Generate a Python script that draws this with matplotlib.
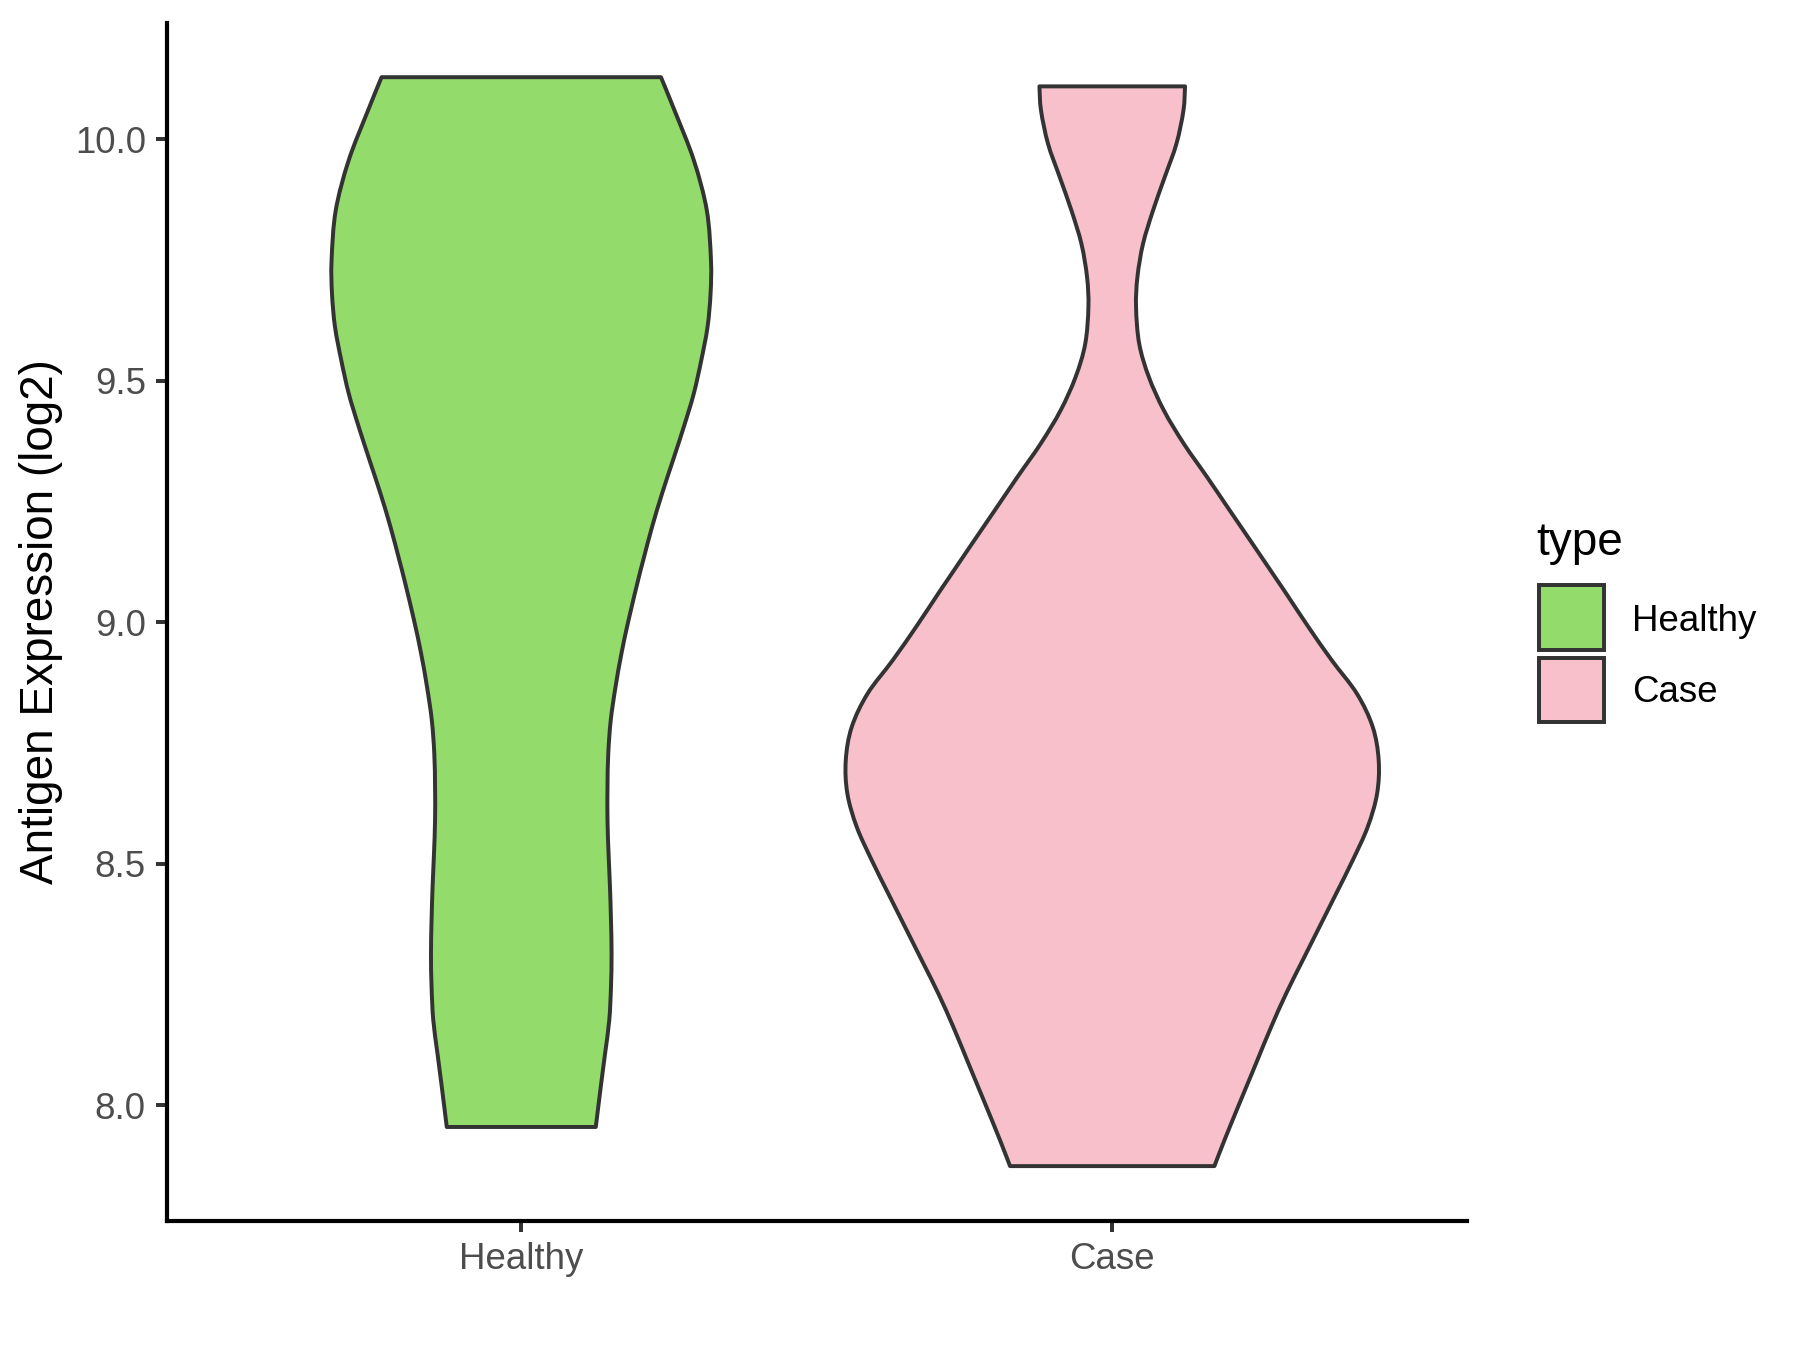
import matplotlib
matplotlib.use("Agg")
import matplotlib.pyplot as plt
from matplotlib.patches import Rectangle, PathPatch
from matplotlib.path import Path
import numpy as np

plt.rcParams['font.family'] = ['Liberation Sans', 'DejaVu Sans']

# ---- data ----
categories = ["Healthy", "Case"]
colors = ["#93DB6A", "#F7C0CB"]

# violin outlines: y value and half-width (in x-axis category units)
healthy_y = [10.128, 10.059, 9.956, 9.852, 9.749, 9.680, 9.611, 9.542, 9.473, 9.404,
             9.335, 9.266, 9.197, 9.128, 9.086, 9.004, 8.935, 8.866, 8.797, 8.728,
             8.659, 8.590, 8.521, 8.452, 8.383, 8.314, 8.245, 8.176, 8.107, 8.038, 7.955]
healthy_w = [0.2364, 0.2594, 0.2920, 0.3140, 0.3210, 0.3203, 0.3152, 0.3046, 0.2919, 0.2750,
             0.2567, 0.2382, 0.2213, 0.2063, 0.1975, 0.1815, 0.1695, 0.1595, 0.1514, 0.1472,
             0.1459, 0.1459, 0.1477, 0.1501, 0.1518, 0.1528, 0.1518, 0.1489, 0.1418, 0.1345, 0.1261]

case_y = [10.109, 10.059, 9.990, 9.921, 9.852, 9.783, 9.714, 9.652, 9.576, 9.507,
          9.438, 9.369, 9.300, 9.231, 9.162, 9.087, 9.059, 8.990, 8.921, 8.852,
          8.783, 8.714, 8.645, 8.576, 8.507, 8.438, 8.369, 8.300, 8.231, 8.162,
          8.093, 8.066, 7.997, 7.928, 7.874]
case_w = [0.1232, 0.1205, 0.1086, 0.0888, 0.0690, 0.0521, 0.0426, 0.0403, 0.0457, 0.0621,
          0.0875, 0.1213, 0.1607, 0.1990, 0.2375, 0.2790, 0.2945, 0.3320, 0.3715, 0.4140,
          0.4408, 0.4509, 0.4482, 0.4323, 0.4069, 0.3789, 0.3506, 0.3223, 0.2942, 0.2689,
          0.2455, 0.2364, 0.2130, 0.1900, 0.1729]

y_ticks = [8.0, 8.5, 9.0, 9.5, 10.0]
y_label = "Antigen Expression (log2)"
legend_title = "type"

# ---- figure ----
W, H = 1800, 1350
fig = plt.figure(figsize=(6, 4.5), dpi=300)

def fx(px):
    return px / W

def fy(py):
    return 1 - py / H

ax_left, ax_right, ax_top, ax_bottom = 166.7, 1466.8, 22.6, 1220.7
ax = fig.add_axes([fx(ax_left), fy(ax_bottom), fx(ax_right - ax_left), (ax_bottom - ax_top) / H])

edge = "#333333"
lw_outline = 0.95


def smooth_side(pts):
    """Bezier (Catmull-Rom) segments through the given outline points."""
    verts, codes = [], []
    n = len(pts)
    for i in range(n - 1):
        p0 = pts[max(i - 1, 0)]
        p1 = pts[i]
        p2 = pts[i + 1]
        p3 = pts[min(i + 2, n - 1)]
        c1 = p1 + (p2 - p0) / 6.0
        c2 = p2 - (p3 - p1) / 6.0
        verts += [c1, c2, p2]
        codes += [Path.CURVE4] * 3
    return verts, codes


def violin_path(pos, yy, ww):
    yy = np.asarray(yy, float)
    ww = np.asarray(ww, float)
    right = np.column_stack([pos + ww, yy])          # top -> bottom
    left = np.column_stack([pos - ww, yy])[::-1]     # bottom -> top
    verts = [right[0]]
    codes = [Path.MOVETO]
    v, c = smooth_side(right)
    verts += v; codes += c
    verts.append(left[0]); codes.append(Path.LINETO)  # flat bottom
    v, c = smooth_side(left)
    verts += v; codes += c
    verts.append(right[0]); codes.append(Path.CLOSEPOLY)  # flat top
    return Path(np.array(verts), codes)


profiles = [(healthy_y, healthy_w), (case_y, case_w)]
for i, ((yy, ww), col) in enumerate(zip(profiles, colors)):
    patch = PathPatch(violin_path(i + 1, yy, ww), facecolor=col, edgecolor=edge,
                      linewidth=lw_outline, joinstyle='round', zorder=2)
    ax.add_patch(patch)

ax.set_xlim(0.4, 2.6)
ax.set_ylim(7.761, 10.241)
ax.set_xticks([1, 2])
ax.set_xticklabels(categories)
ax.set_yticks(y_ticks)
ax.set_yticklabels([f"{v:.1f}" for v in y_ticks])

for s in ["top", "right"]:
    ax.spines[s].set_visible(False)
for s in ["left", "bottom"]:
    ax.spines[s].set_color("black")
    ax.spines[s].set_linewidth(1.0)

ax.tick_params(axis="both", length=2.6, width=0.95, color="#333333",
               labelcolor="#4D4D4D", labelsize=8.8, pad=2.4)

fig.text(fx(41), fy(621.6), y_label, rotation=90, ha="center", va="center",
         fontsize=11, color="black")

# ---- legend ----
fig.text(fx(1536.7), fy(555), legend_title, ha="left", va="baseline",
         fontsize=11, color="black")
key_boxes = [(1539.0, 585.0, 64.7, 65.0), (1539.0, 657.7, 64.7, 64.0)]
label_baselines = [630.7, 702.3]
for (kx, ky, kw, kh), col, lab, bl in zip(key_boxes, colors, categories, label_baselines):
    rect = Rectangle((fx(kx), fy(ky + kh)), kw / W, kh / H, transform=fig.transFigure,
                     facecolor=col, edgecolor=edge, linewidth=lw_outline)
    fig.patches.append(rect)
    fig.text(fx(1631.7), fy(bl), lab, ha="left", va="baseline", fontsize=8.8, color="black")

fig.savefig("out.png", dpi=300, facecolor="white")
